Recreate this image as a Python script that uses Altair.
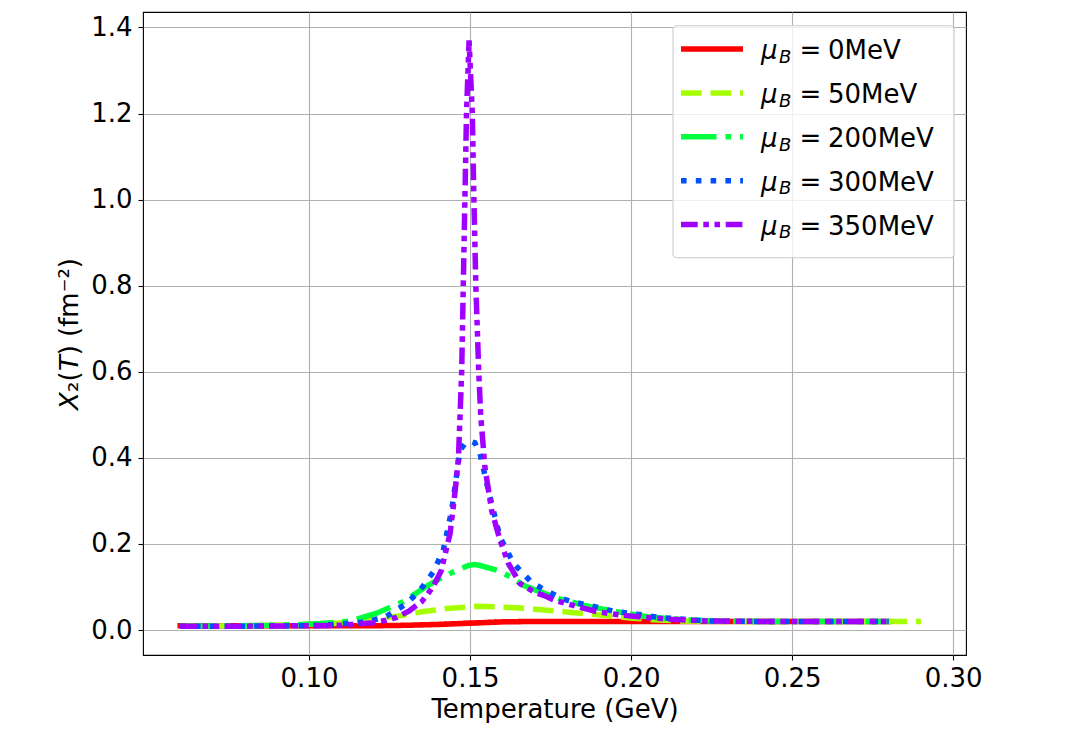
import altair as alt
import pandas as pd

# ---- data ----
series_names = ["0", "50", "200", "300", "350"]
series_labels = ["0MeV", "50MeV", "200MeV", "300MeV", "350MeV"]
colors = ["#ff0000", "#a6ff00", "#00ff3c", "#0050ff", "#a000ff"]
dashes = [[1, 0], [20.6, 8.9], [35.6, 8.9, 5.6, 8.9], [5.6, 9.2],
          [16.7, 5.6, 5.6, 5.6, 5.6, 5.6]]

T0 = [0.060, 0.120, 0.130, 0.140, 0.150, 0.160, 0.170, 0.200, 0.240, 0.280]
V0 = [0.010, 0.010, 0.011, 0.013, 0.016, 0.019, 0.020, 0.020, 0.020, 0.020]

T50 = [0.060, 0.080, 0.095, 0.1076, 0.118, 0.1283, 0.1345, 0.1428, 0.152,
       0.1583, 0.1656, 0.1739, 0.1815, 0.1904, 0.1997, 0.207, 0.215, 0.230,
       0.260, 0.290]
V50 = [0.009, 0.010, 0.012, 0.015, 0.023, 0.033, 0.042, 0.050, 0.055,
       0.054, 0.051, 0.046, 0.041, 0.035, 0.028, 0.024, 0.021, 0.020,
       0.020, 0.020]

T200 = [0.060, 0.080, 0.095, 0.1035, 0.1128, 0.121, 0.1293, 0.137, 0.142,
        0.1459, 0.1495, 0.1515, 0.1531, 0.1583, 0.1625, 0.1666, 0.172,
        0.178, 0.185, 0.195, 0.205, 0.215, 0.225, 0.240, 0.260, 0.280]
V200 = [0.009, 0.010, 0.012, 0.015, 0.021, 0.039, 0.066, 0.104, 0.125,
        0.139, 0.150, 0.152, 0.150, 0.139, 0.124, 0.104, 0.088,
        0.072, 0.058, 0.043, 0.031, 0.025, 0.021, 0.020, 0.020, 0.020]

T300 = [0.060, 0.080, 0.100, 0.1076, 0.1179, 0.1241, 0.1304, 0.1345, 0.1386,
        0.1417, 0.1443, 0.1469, 0.1484, 0.1500, 0.1515, 0.1531, 0.1552,
        0.1593, 0.1635, 0.1692, 0.1723, 0.1754, 0.1785, 0.1816, 0.1878,
        0.1950, 0.2018, 0.2090, 0.2163, 0.2235, 0.240, 0.260, 0.280]
V300 = [0.009, 0.009, 0.010, 0.013, 0.019, 0.032, 0.062, 0.093, 0.135,
        0.186, 0.278, 0.418, 0.433, 0.439, 0.435, 0.410, 0.340,
        0.216, 0.155, 0.110, 0.097, 0.085, 0.073, 0.066, 0.056,
        0.043, 0.037, 0.029, 0.025, 0.021, 0.020, 0.020, 0.020]

T350 = [0.060, 0.080, 0.100, 0.110, 0.115, 0.120, 0.1236, 0.127, 0.131,
        0.135, 0.1385, 0.141, 0.1438, 0.1454, 0.1464, 0.1469, 0.1474,
        0.1479, 0.1484, 0.1489, 0.1497, 0.1507, 0.1512, 0.1518, 0.1527,
        0.1533, 0.1546, 0.1567, 0.1593, 0.1619, 0.1655, 0.170, 0.173,
        0.176, 0.183, 0.1892, 0.1965, 0.2049, 0.212, 0.2245, 0.240, 0.260,
        0.280]
V350 = [0.009, 0.009, 0.010, 0.011, 0.014, 0.017, 0.022, 0.029, 0.044,
        0.066, 0.100, 0.137, 0.224, 0.325, 0.400, 0.500, 0.600,
        0.800, 1.000, 1.200, 1.370, 1.200, 1.000, 0.800, 0.600,
        0.500, 0.379, 0.278, 0.209, 0.155, 0.108, 0.088, 0.080,
        0.070, 0.055, 0.043, 0.035, 0.029, 0.025, 0.021, 0.020, 0.020,
        0.020]

x_ticks = [0.10, 0.15, 0.20, 0.25, 0.30]
y_ticks = [0.0, 0.2, 0.4, 0.6, 0.8, 1.0, 1.2, 1.4]

all_T = [T0, T50, T200, T300, T350]
all_V = [V0, V50, V200, V300, V350]

rows = []
for name, ts, vs in zip(series_names, all_T, all_V):
    for t, v in zip(ts, vs):
        rows.append({"series": name, "T": t, "X2": v})
df = pd.DataFrame(rows)

legend_df = pd.DataFrame({"series": series_names, "val": series_labels,
                          "idx": list(range(len(series_names)))})

W, H = 823, 643
xscale = alt.Scale(domain=[0.04845, 0.304], nice=False, zero=False)
yscale = alt.Scale(domain=[-0.058, 1.436], nice=False, zero=False)

base = alt.Chart(df)

line_layers = []
for i, name in enumerate(series_names):
    enc = dict(
        x=alt.X("T:Q", scale=xscale,
                axis=alt.Axis(values=x_ticks, format=".2f",
                              title="Temperature (GeV)",
                              titleY=62.5, titleBaseline="alphabetic",
                              labelPadding=5)),
        y=alt.Y("X2:Q", scale=yscale,
                axis=alt.Axis(values=y_ticks, format=".1f",
                              title="𝘟₂(𝘛) (fm⁻²)",
                              titleX=-66, titleY=H / 2,
                              titleBaseline="alphabetic", titleAlign="center",
                              labelPadding=6)),
    )
    layer = base.transform_filter(alt.datum.series == name).mark_line(
        color=colors[i], strokeDash=dashes[i], strokeWidth=5.5,
        strokeCap="square" if i == 0 else "butt", clip=True,
    ).encode(**enc)
    line_layers.append(layer)

lines = alt.layer(*line_layers)

# legend box
box = alt.Chart(alt.Data(values=[{"a": 1}])).mark_rect(
    fill="white", fillOpacity=0.8, stroke="#cccccc", strokeWidth=1.1,
    cornerRadius=4,
).encode(x=alt.value(530), x2=alt.value(811), y=alt.value(13.7),
         y2=alt.value(245.7))

leg = alt.Chart(legend_df).transform_calculate(
    ly="37 + datum.idx * 43.9", lb="47.3 + datum.idx * 43.9"
)
leg_lines = leg.mark_rule(strokeWidth=5.5).encode(
    x=alt.value(538), x2=alt.value(600),
    y=alt.Y("ly:Q", scale=None, axis=None),
    color=alt.Color("series:N", scale=alt.Scale(domain=series_names, range=colors),
                    legend=None),
    strokeDash=alt.StrokeDash("series:N",
                              scale=alt.Scale(domain=series_names, range=dashes),
                              legend=None),
)
leg_mu = leg.mark_text(fontSize=26, fontStyle="italic", align="left",
                       baseline="alphabetic", color="black").encode(
    x=alt.value(618), y=alt.Y("lb:Q", scale=None, axis=None), text=alt.value("μ"))
leg_b = leg.mark_text(fontSize=18, fontStyle="italic", align="left",
                      baseline="alphabetic", color="black", dy=3.4).encode(
    x=alt.value(636), y=alt.Y("lb:Q", scale=None, axis=None), text=alt.value("B"))
leg_eq = leg.mark_text(fontSize=26, align="left", baseline="alphabetic",
                       color="black").encode(
    x=alt.value(656.5), y=alt.Y("lb:Q", scale=None, axis=None), text=alt.value("="))
leg_val = leg.mark_text(fontSize=26, align="left", baseline="alphabetic",
                        color="black").encode(
    x=alt.value(685), y=alt.Y("lb:Q", scale=None, axis=None), text="val:N")

legend = alt.layer(box, leg_lines, leg_mu, leg_b, leg_eq, leg_val)

chart = alt.layer(lines, legend).resolve_scale(
    y="independent"
).properties(
    width=W, height=H,
    autosize=alt.AutoSizeParams(type="none"),
    padding={"left": 135, "top": 4, "right": 90, "bottom": 68},
).configure(
    font="DejaVu Sans",
).configure_view(
    stroke="black", strokeWidth=1.1,
).configure_axis(
    labelFontSize=26, labelColor="black", labelFont="DejaVu Sans",
    titleFontSize=26, titleFontWeight="normal", titleColor="black",
    titleFont="DejaVu Sans",
    tickSize=5, tickWidth=1.1, tickColor="black",
    grid=True, gridColor="#b0b0b0", gridWidth=1.1,
    domain=False,
)

chart.save("out.html", embed_options={"renderer": "svg", "actions": False})
